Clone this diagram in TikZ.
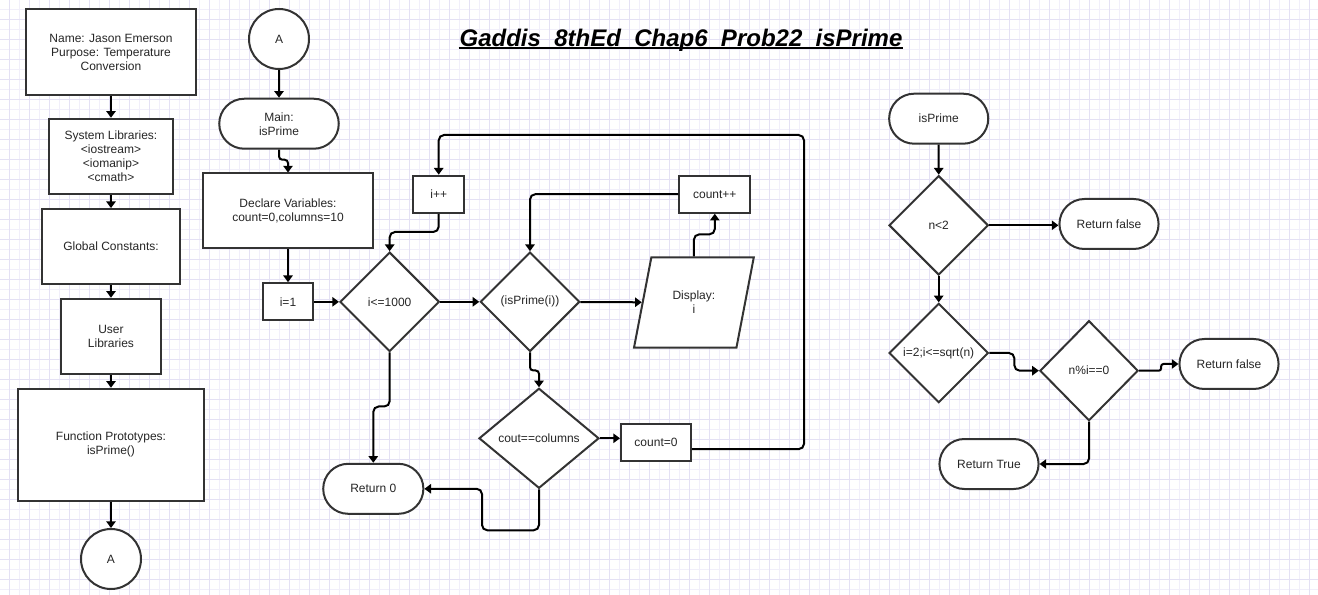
\documentclass[tikz,border=0pt]{standalone}
\usepackage{fontspec}
\setmainfont{Liberation Sans}
\usetikzlibrary{arrows.meta, positioning, shapes.geometric, shapes.misc}

\definecolor{gridminor}{HTML}{F1EFFA}
\definecolor{gridmajor}{HTML}{E4E1F4}

\begin{document}
\begin{tikzpicture}[
    x=0.75pt, y=-0.75pt,
    every node/.style={
        draw=black!80,
        line width=1.5pt,
        fill=white,
        align=center,
        text=black!85,
        font=\fontsize{9}{10.5}\selectfont
    },
    process/.style={rectangle},
    terminal/.style={rounded rectangle, minimum width=81pt, minimum height=37.5pt},
    decision/.style={diamond, inner sep=0pt, minimum width=74.5pt, minimum height=74.5pt},
    io/.style={trapezium, trapezium left angle=71.6, trapezium right angle=108.4,
        trapezium stretches=true},
    connector/.style={circle, minimum size=45pt},
    arrow/.style={-{Triangle[length=5pt,width=7pt]}, line width=1.5pt, rounded corners=4pt},
    jog/.style={arrow, rounded corners=2.5pt},
    minorline/.style={draw=gridminor, line width=0.6pt},
    majorline/.style={draw=gridmajor, line width=0.6pt}
]

% === Page and grid ===
\useasboundingbox (0,0) rectangle (1318,595);
\fill[white] (0,0) rectangle (1318,595);
\foreach \gx in {19,39,...,1309} \draw[minorline] (\gx,0) -- (\gx,595);
\foreach \gy in {9,29,...,589} \draw[minorline] (0,\gy) -- (1318,\gy);
\foreach \gx in {9,29,...,1309} \draw[majorline] (\gx,0) -- (\gx,595);
\foreach \gy in {19,39,...,579} \draw[majorline] (0,\gy) -- (1318,\gy);

% === Title ===
\node[draw=none, fill=none, inner sep=0pt, anchor=base, text=black,
      font=\fontsize{18}{21}\selectfont\bfseries\itshape] (title) at (681,46.7)
      {Gaddis\_8thEd\_Chap6\_Prob22\_isPrime};
\draw[line width=1.5pt] ([yshift=-1.3pt]title.base west) -- ([yshift=-1.3pt]title.base east);

% === Header column ===
\node[process, minimum width=127.5pt, minimum height=64.5pt] (header) at (111,52)
      {Name: Jason Emerson\\Purpose: Temperature\\Conversion};
\node[process, below=16.3pt of header, minimum width=93.5pt, minimum height=56.5pt] (syslibs)
      {System Libraries:\\<iostream>\\<iomanip>\\<cmath>};
\node[process, below=9.75pt of syslibs, minimum width=103pt, minimum height=56.25pt] (globals)
      {Global Constants:};
\node[process, below=9.5pt of globals, minimum width=75.5pt, minimum height=56.5pt] (userlibs)
      {User\\Libraries};
\node[process, below=9.5pt of userlibs, minimum width=139pt, minimum height=84pt] (protos)
      {Function Prototypes:\\isPrime()};
\node[connector, below=19.7pt of protos] (conB) {A};

% === Main ===
\node[connector] (conA) at (279,39) {A};
\node[terminal, below=20.8pt of conA, minimum width=96.3pt] (main) {Main:\\isPrime};
\node[process, minimum width=128pt, minimum height=56.25pt] (decl) at (288,211)
      {Declare Variables:\\count=0,columns=10};
\node[process, below=24.5pt of decl, minimum width=38pt, minimum height=28pt] (ione) {i=1};
\node[decision, right=18.5pt of ione] (loop) {i<=1000};
\node[decision, right=29.25pt of loop] (isp) {(isPrime(i))};
\node[io, minimum width=90.2pt, minimum height=67.7pt] (disp) at (693.9,302.5) {Display:\\i};
\node[process, minimum width=38pt, minimum height=28pt] (ipp) at (438.7,194.3) {i++};
\node[process, minimum width=53.3pt, minimum height=27.8pt] (cntpp) at (714.8,194.2) {count++};
\node[decision, minimum width=90pt, minimum height=75pt] (cout) at (539,438.3) {cout==columns};
\node[process, minimum width=52.5pt, minimum height=28.2pt] (czero) at (656,442.5) {count=0};
\node[terminal, minimum width=81.8pt] (ret0) at (373.3,488.8) {Return 0};
\coordinate (loopcorner) at (804,135);

% === isPrime function ===
\node[terminal] (fisprime) at (938.7,118.7) {isPrime};
\node[decision] (nlt) at (938.7,225.3) {n<2};
\node[terminal] (rfa) at (1109,224) {Return false};
\node[decision] (forl) at (938.7,353) {\makebox[0pt]{i=2;i<=sqrt(n)}};
\node[decision, minimum width=73.7pt, minimum height=75pt] (mod) at (1089,370.7) {n\%i==0};
\node[terminal] (rfb) at (1229,364) {Return false};
\node[terminal] (rtrue) at (989,464) {Return True};

% ============ ARROWS ============

% Header column
\draw[arrow] (header) -- (syslibs);
\draw[arrow] (syslibs) -- (globals);
\draw[arrow] (globals) -- (userlibs);
\draw[arrow] (userlibs) -- (protos);
\draw[arrow] (protos) -- (conB);

% Main flow
\draw[arrow] (conA) -- (main);
\draw[jog] (main.south) -- ++(0,10) -| (decl.north);
\draw[arrow] (decl) -- (ione);
\draw[arrow] (ione) -- (loop);
\draw[arrow] (loop) -- (isp);
\draw[arrow] (isp) -- (disp);
\draw[arrow] (disp.north) -- ++(0,-22) -| (cntpp.south);
\draw[arrow] (cntpp.west) -| (isp.north);
\draw[jog] (isp.south) -- ++(0,18) -| (cout.north);
\draw[arrow] (cout.east) -- (cout.east -| czero.west);
\draw[arrow] ([yshift=-5pt]czero.east) -| (loopcorner) -| (ipp.north);
\draw[arrow] (ipp.south) -- ++(0,18) -| (loop.north);
\draw[arrow] (loop.south) -- ++(0,54) -| (ret0.north);
\draw[arrow] (cout.south) -- ++(0,41) -- ++(-57,0) |- (ret0.east);

% isPrime function
\draw[arrow] (fisprime) -- (nlt);
\draw[arrow] (nlt.east) -- (nlt.east -| rfa.west);
\draw[arrow] (nlt) -- (forl);
\draw[arrow] (forl.east) -- ++(25,0) |- (mod.west);
\draw[jog, rounded corners=1.8pt] (mod.east) -- ++(22,0) |- (rfb.west);
\draw[arrow] (mod.south) |- (rtrue.east);

\end{tikzpicture}
\end{document}
